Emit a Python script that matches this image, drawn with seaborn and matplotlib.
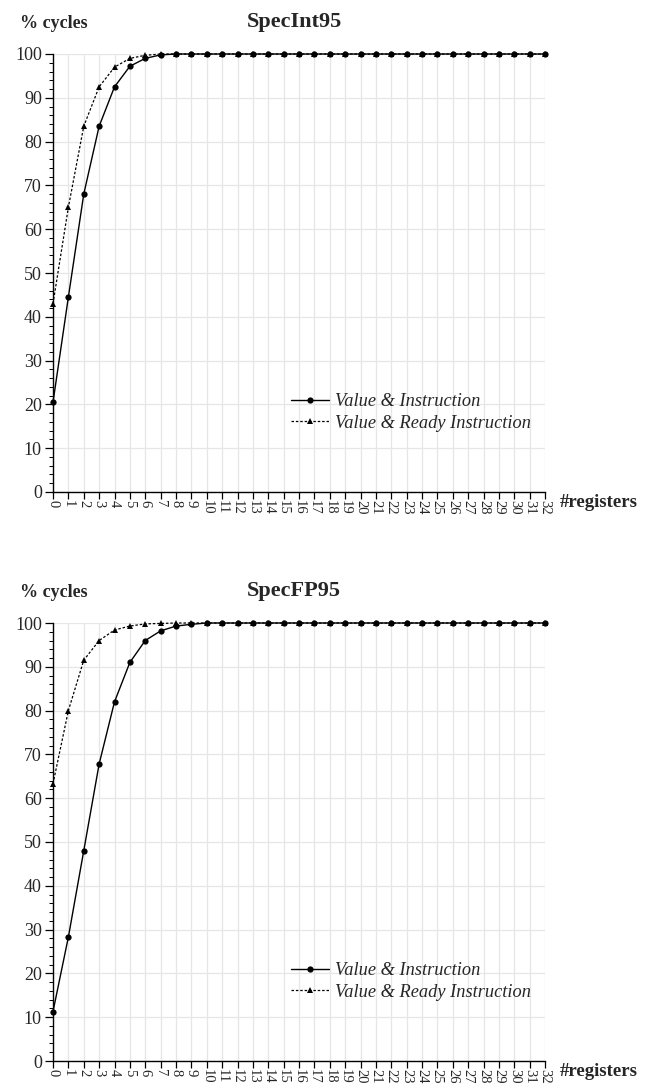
import matplotlib
matplotlib.use("Agg")
import matplotlib.pyplot as plt
import seaborn as sns
import pandas as pd
import numpy as np
from matplotlib.ticker import MultipleLocator

registers = list(range(33))

int_val_instr = [20.5, 44.5, 68.0, 83.5, 92.5, 97.2, 99.0, 99.8] + [100.0] * 25
int_val_ready = [43.0, 65.0, 83.5, 92.5, 97.0, 99.0, 99.7, 100.0] + [100.0] * 25

fp_val_instr = [11.3, 28.3, 48.0, 67.8, 82.0, 91.0, 96.0, 98.2, 99.3, 99.7] + [100.0] * 23
fp_val_ready = [63.3, 80.0, 91.5, 96.0, 98.4, 99.3, 99.8, 99.9] + [100.0] * 25

titles = ["SpecInt95", "SpecFP95"]
series_names = ["Value & Instruction", "Value & Ready Instruction"]
y_ticks = list(range(0, 101, 10))

sns.set_theme(style="white")
plt.rcParams["font.family"] = ["Liberation Serif", "DejaVu Serif"]

fig = plt.figure(figsize=(6.5, 10.88), dpi=100)
rects = [
    [53 / 650, 1 - 492 / 1088, (545 - 53) / 650, (492 - 54) / 1088],
    [53 / 650, 1 - 1061 / 1088, (545 - 53) / 650, (1061 - 623) / 1088],
]
data_sets = [(int_val_instr, int_val_ready), (fp_val_instr, fp_val_ready)]

for rect, title, (a, b) in zip(rects, titles, data_sets):
    ax = fig.add_axes(rect)
    df = pd.DataFrame({"reg": registers, "a": a, "b": b})
    sns.lineplot(data=df, x="reg", y="a", ax=ax, color="black", lw=1.0,
                 marker="o", markersize=4.5, markeredgewidth=0, label=series_names[0],
                 clip_on=False, zorder=5)
    sns.lineplot(data=df, x="reg", y="b", ax=ax, color="black", lw=0.9,
                 linestyle=(0, (2, 1.5)), marker="^", markersize=4.5, markeredgewidth=0,
                 label=series_names[1], clip_on=False, zorder=4)
    ax.set_xlim(0, 32)
    ax.set_ylim(0, 100)
    ax.set_xticks(registers)
    ax.set_xticklabels([str(r) for r in registers], rotation=-90, fontsize=10.5)
    ax.set_yticks(y_ticks)
    ax.set_yticklabels([str(t) for t in y_ticks], fontsize=13)
    ax.yaxis.set_minor_locator(MultipleLocator(2))
    ax.grid(True, which="major", color="#e6e6e6", lw=0.9)
    ax.set_axisbelow(True)
    for s in ["top", "right"]:
        ax.spines[s].set_visible(False)
    for s in ["left", "bottom"]:
        ax.spines[s].set_color("black")
        ax.spines[s].set_linewidth(1.0)
    ax.tick_params(axis="y", which="major", direction="out", length=6, width=0.9,
                   color="black", left=True, pad=2)
    ax.tick_params(axis="x", which="major", direction="out", length=5, width=0.9,
                   color="black", bottom=True, pad=1)
    ax.tick_params(axis="y", which="minor", direction="out", length=3, width=0.7,
                   color="black", left=True)
    ax.set_xlabel("")
    ax.set_ylabel("")
    ax.text(-0.067, 1.07, "% cycles", transform=ax.transAxes, fontsize=13,
            fontweight="bold", ha="left", va="center")
    ax.text(0.49, 1.073, title, transform=ax.transAxes, fontsize=16,
            fontweight="bold", ha="center", va="center")
    ax.text(1.03, -0.024, "#registers", transform=ax.transAxes, fontsize=13.5,
            fontweight="bold", ha="left", va="center")
    ax.legend(loc="upper left", bbox_to_anchor=(0.484, 0.226), frameon=False,
              prop={"style": "italic", "size": 13.2}, handlelength=2.07,
              handletextpad=0.33, labelspacing=0.25, borderaxespad=0, borderpad=0)

fig.savefig("out.png", dpi=100)
